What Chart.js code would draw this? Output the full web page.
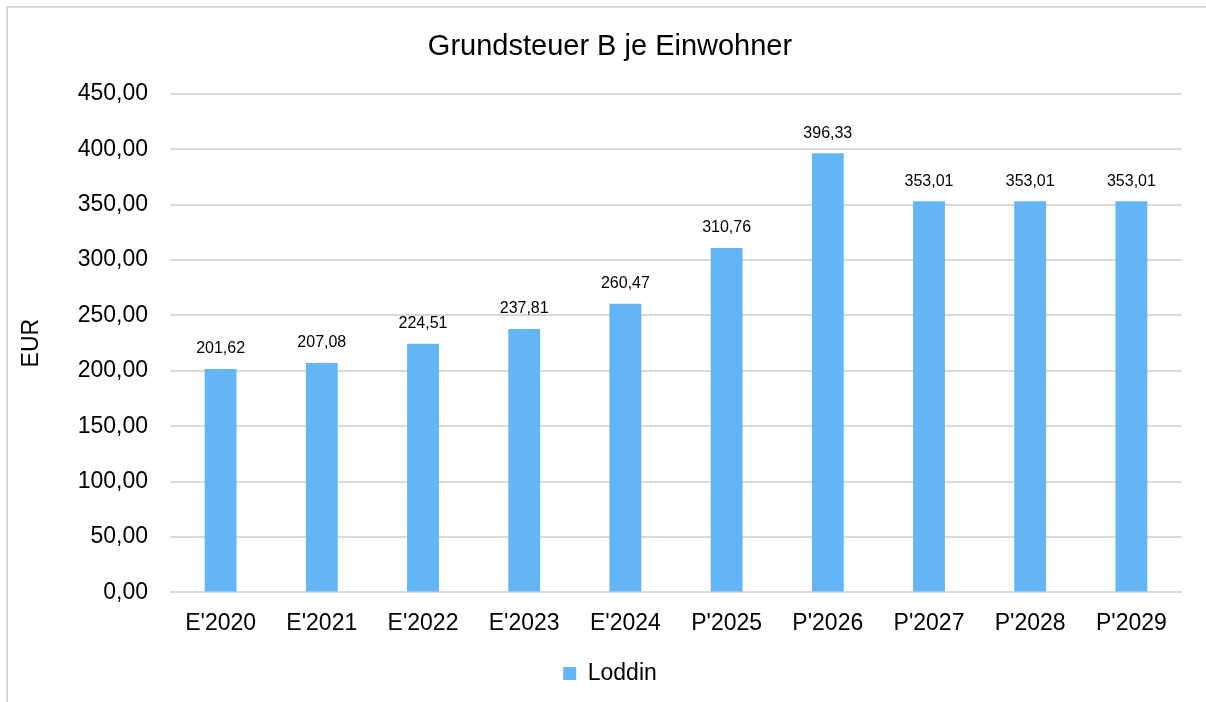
<!DOCTYPE html>
<html>
<head>
<meta charset="utf-8">
<script src="https://cdn.jsdelivr.net/npm/chart.js@4.4.1/dist/chart.umd.min.js"></script>
<style>
  html, body { margin: 0; padding: 0; background: #fff; overflow: hidden; }
  #wrap { position: relative; width: 1206px; height: 702px; }
  #frame { position: absolute; left: 6px; top: 6px; width: 1300px; height: 800px; border: 2px solid #d9d9d9; }
  #chart { position: absolute; left: 0; top: 0; }
</style>
</head>
<body>
<div id="wrap">
  <div id="frame"></div>
  <canvas id="chart" width="1206" height="702"></canvas>
</div>
<script>
const categories = ["E'2020", "E'2021", "E'2022", "E'2023", "E'2024", "P'2025", "P'2026", "P'2027", "P'2028", "P'2029"]
const loddin = [201.62, 207.08, 224.51, 237.81, 260.47, 310.76, 396.33, 353.01, 353.01, 353.01]
const yMax = 450
const yStep = 50

const fmt = v => v.toFixed(2).replace('.', ',')
const FONT = "'Liberation Sans', Arial, sans-serif"

// value labels above each bar
const barLabels = {
  id: 'barLabels',
  afterDatasetsDraw(chart) {
    const ctx = chart.ctx
    ctx.save()
    ctx.font = '16px ' + FONT
    ctx.fillStyle = '#000'
    ctx.textAlign = 'center'
    ctx.textBaseline = 'middle'
    chart.getDatasetMeta(0).data.forEach((bar, i) => {
      ctx.fillText(fmt(loddin[i]), bar.x, bar.y - 20)
    })
    ctx.restore()
  }
}

// rotated axis title at the far left
const yTitle = {
  id: 'yTitle',
  afterDraw(chart) {
    const ctx = chart.ctx
    const area = chart.chartArea
    ctx.save()
    ctx.translate(32, (area.top + area.bottom) / 2)
    ctx.rotate(-Math.PI / 2)
    ctx.font = '23px ' + FONT
    ctx.fillStyle = '#000'
    ctx.textAlign = 'center'
    ctx.textBaseline = 'middle'
    ctx.fillText('EUR', 0, 0)
    ctx.restore()
  }
}

new Chart(document.getElementById('chart'), {
  type: 'bar',
  data: {
    labels: categories,
    datasets: [{
      label: 'Loddin',
      data: loddin,
      backgroundColor: '#64B5F6',
      borderWidth: 0,
      categoryPercentage: 1,
      barPercentage: 0.315
    }]
  },
  options: {
    responsive: false,
    animation: false,
    layout: { padding: { left: 38, right: 24, top: 10, bottom: 7 } },
    plugins: {
      title: {
        display: true,
        text: 'Grundsteuer B je Einwohner',
        color: '#000',
        font: { family: FONT, size: 29, weight: 'normal' },
        padding: { top: 20, bottom: 29 }
      },
      legend: {
        position: 'bottom',
        labels: {
          color: '#000',
          font: { family: FONT, size: 23 },
          boxWidth: 13,
          boxHeight: 13,
          padding: 10
        }
      },
      tooltip: { enabled: false }
    },
    scales: {
      x: {
        afterFit: scale => { scale.height += 6 },
        grid: { display: false },
        border: { display: false },
        ticks: { color: '#000', font: { family: FONT, size: 23 }, padding: 9, maxRotation: 0 }
      },
      y: {
        min: 0,
        max: yMax,
        afterFit: scale => { scale.width = 132 },
        grid: { color: '#d9d9d9', lineWidth: 2, drawTicks: false },
        border: { display: false },
        ticks: { stepSize: yStep, color: '#000', font: { family: FONT, size: 23 }, padding: 22, callback: v => fmt(v) }
      }
    }
  },
  plugins: [barLabels, yTitle]
})
</script>
</body>
</html>
